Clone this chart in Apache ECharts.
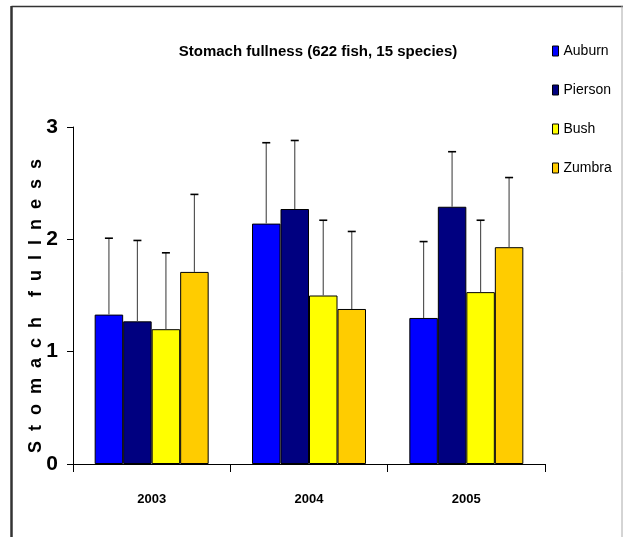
<!DOCTYPE html>
<html>
<head>
<meta charset="utf-8">
<script src="https://cdn.jsdelivr.net/npm/echarts@6/dist/echarts.min.js"></script>
<style>
html,body{margin:0;padding:0;background:#fff;}
#chart{width:623px;height:537px;}
</style>
</head>
<body>
<div id="chart"></div>
<script>
const categories = ['2003', '2004', '2005'];
const seriesNames = ['Auburn', 'Pierson', 'Bush', 'Zumbra'];
const auburn = [1.33, 2.14, 1.30];
const pierson = [1.27, 2.27, 2.29];
const bush = [1.20, 1.50, 1.53];
const zumbra = [1.71, 1.38, 1.93];
const auburnErrTop = [2.01, 2.86, 1.98];
const piersonErrTop = [1.99, 2.88, 2.78];
const bushErrTop = [1.88, 2.17, 2.17];
const zumbraErrTop = [2.40, 2.07, 2.55];
const yTicks = [0, 1, 2, 3];

const colors = ['#0000FF', '#000080', '#FFFF00', '#FFCC00'];
const means = [auburn, pierson, bush, zumbra];
const errTops = [auburnErrTop, piersonErrTop, bushErrTop, zumbraErrTop];
const FONT = '"Liberation Sans Narrow", "Arial Narrow", "Liberation Sans", Arial, sans-serif';
const BAR_W = 28.5;

const chart = echarts.init(document.getElementById('chart'), null, {renderer: 'canvas'});

const series = [];
seriesNames.forEach((name, i) => {
  series.push({
    name: name,
    type: 'bar',
    data: means[i],
    barWidth: BAR_W,
    barGap: '0%',
    itemStyle: {color: colors[i], borderColor: '#000', borderWidth: 1},
    z: 2
  });
});
seriesNames.forEach((name, i) => {
  series.push({
    type: 'custom',
    name: name + ' err',
    data: categories.map((c, k) => [k, means[i][k], errTops[i][k]]),
    encode: {x: 0, y: [1, 2]},
    z: 3,
    silent: true,
    renderItem: function (params, api) {
      const k = api.value(0);
      const off = (i - 1.5) * BAR_W;
      const base = api.coord([k, api.value(1)]);
      const top = api.coord([k, api.value(2)]);
      const x = base[0] + off;
      return {
        type: 'group',
        children: [
          {type: 'line', shape: {x1: x, y1: base[1], x2: x, y2: top[1]}, style: {stroke: '#555', lineWidth: 1.2}},
          {type: 'line', shape: {x1: x - 4, y1: top[1], x2: x + 4, y2: top[1]}, style: {stroke: '#000', lineWidth: 1.6}}
        ]
      };
    }
  });
});

chart.setOption({
  animation: false,
  backgroundColor: '#fff',
  title: {
    text: 'Stomach fullness (622 fish, 15 species)',
    left: 313, top: 39, textAlign: 'center',
    textStyle: {fontFamily: FONT, fontWeight: 'bold', fontSize: 15, color: '#000'}
  },
  legend: {
    data: seriesNames,
    orient: 'vertical',
    left: 547, top: 39,
    itemWidth: 6, itemHeight: 10, itemGap: 25,
    icon: 'rect',
    textStyle: {fontFamily: FONT, fontSize: 14, color: '#000', padding: [0, 0, 0, 0]},
    itemStyle: {borderColor: '#000', borderWidth: 1}
  },
  grid: {left: 73, right: 78, top: 127, bottom: 73, containLabel: false},
  xAxis: {
    type: 'category',
    data: categories,
    axisLine: {lineStyle: {color: '#000', width: 1}},
    axisTick: {show: true, length: 8, alignWithLabel: false, lineStyle: {color: '#000'}},
    axisLabel: {fontFamily: FONT, fontWeight: 'bold', fontSize: 13, color: '#000', margin: 29}
  },
  yAxis: {
    type: 'value',
    min: yTicks[0], max: yTicks[yTicks.length - 1], interval: 1,
    axisLine: {show: true, lineStyle: {color: '#000', width: 1}},
    axisTick: {show: true, length: 6, lineStyle: {color: '#000'}},
    splitLine: {show: false},
    axisLabel: {fontFamily: FONT, fontWeight: 'bold', fontSize: 21, color: '#000', margin: 15}
  },
  graphic: [
    {type: 'text', rotation: Math.PI / 2, x: 36, y: 306,
     style: {text: 'S  t  o  m  a  c  h    f  u  l  l  n  e  s  s', font: 'bold 18px ' + FONT, fill: '#000',
             align: 'center', verticalAlign: 'middle'}},
    {type: 'line', shape: {x1: 11.5, y1: 6.5, x2: 623, y2: 6.5}, style: {stroke: '#333', lineWidth: 1.5}},
    {type: 'line', shape: {x1: 11.5, y1: 6, x2: 11.5, y2: 537}, style: {stroke: '#333', lineWidth: 2.5}},
    {type: 'line', shape: {x1: 622, y1: 6, x2: 622, y2: 537}, style: {stroke: '#aaa', lineWidth: 1}}
  ],
  series: series
});
</script>
</body>
</html>
